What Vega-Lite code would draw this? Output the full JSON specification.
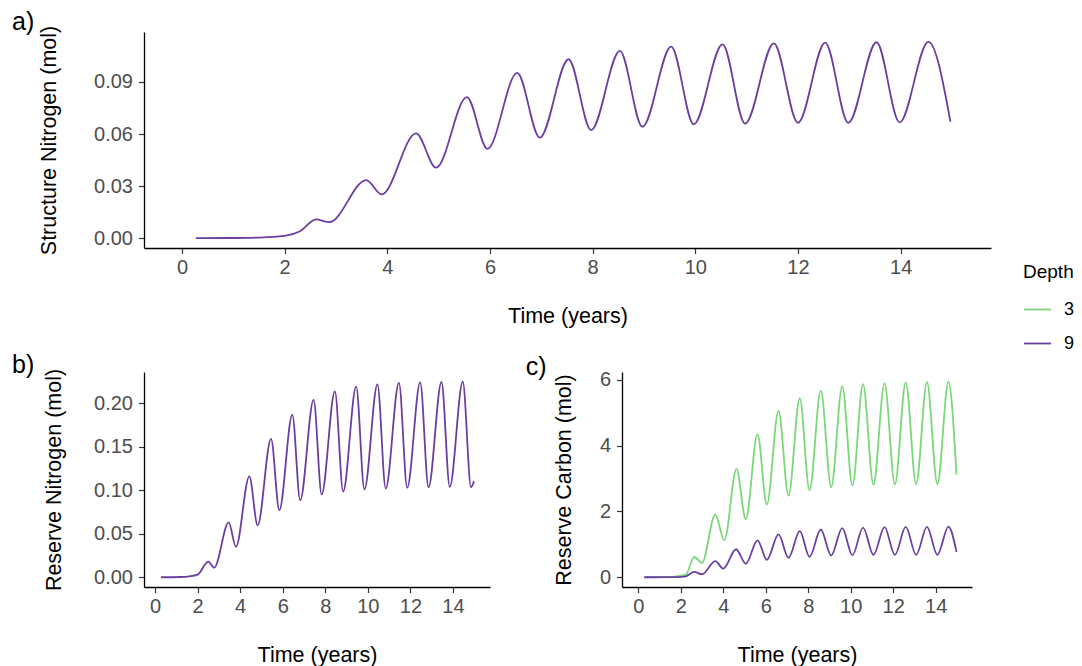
{
  "$schema": "https://vega.github.io/schema/vega-lite/v6.json",
  "padding": {"left": 12, "top": 10, "right": 0, "bottom": 0},
  "background": "white",
  "config": {
    "font": "Liberation Sans",
    "view": {"stroke": null},
    "axis": {
      "grid": false,
      "domainColor": "#000000",
      "domainWidth": 1.3,
      "tickColor": "#333333",
      "tickWidth": 1.2,
      "tickSize": 5.5,
      "labelColor": "#4D4D4D",
      "labelFontSize": 20,
      "labelPadding": 6,
      "titleColor": "#000000",
      "titleFontSize": 21.5,
      "titleFontWeight": "normal"
    },
    "axisX": {"titlePadding": 28, "labelPadding": 4},
    "axisY": {"titlePadding": 30},
    "title": {"fontSize": 25, "fontWeight": "normal", "color": "#000000"},
    "legend": {
      "titleFontSize": 19,
      "titleFontWeight": "normal",
      "titleColor": "#000000",
      "labelFontSize": 18,
      "labelColor": "#000000",
      "symbolType": "stroke",
      "symbolStrokeWidth": 1.8,
      "symbolSize": 729,
      "rowPadding": 10,
      "titlePadding": 13,
      "labelOffset": 12
    },
    "line": {"interpolate": "monotone", "strokeWidth": 1.8}
  },
  "data": {
    "values": [
      {"p": "a", "d": "9", "t": 0.27, "v": 0},
      {"p": "a", "d": "9", "t": 1.0, "v": 0.0001},
      {"p": "a", "d": "9", "t": 1.6, "v": 0.0005},
      {"p": "a", "d": "9", "t": 2.0, "v": 0.0013},
      {"p": "a", "d": "9", "t": 2.3, "v": 0.004},
      {"p": "a", "d": "9", "t": 2.61, "v": 0.0108},
      {"p": "a", "d": "9", "t": 2.87, "v": 0.0092},
      {"p": "a", "d": "9", "t": 3.59, "v": 0.0335},
      {"p": "a", "d": "9", "t": 3.89, "v": 0.0252},
      {"p": "a", "d": "9", "t": 4.56, "v": 0.0604},
      {"p": "a", "d": "9", "t": 4.95, "v": 0.0406},
      {"p": "a", "d": "9", "t": 5.55, "v": 0.0813},
      {"p": "a", "d": "9", "t": 5.95, "v": 0.0515},
      {"p": "a", "d": "9", "t": 6.53, "v": 0.0952},
      {"p": "a", "d": "9", "t": 6.97, "v": 0.0579},
      {"p": "a", "d": "9", "t": 7.53, "v": 0.1031},
      {"p": "a", "d": "9", "t": 7.97, "v": 0.0623},
      {"p": "a", "d": "9", "t": 8.53, "v": 0.1079},
      {"p": "a", "d": "9", "t": 8.97, "v": 0.0642},
      {"p": "a", "d": "9", "t": 9.53, "v": 0.1104},
      {"p": "a", "d": "9", "t": 9.97, "v": 0.0656},
      {"p": "a", "d": "9", "t": 10.53, "v": 0.1117},
      {"p": "a", "d": "9", "t": 10.97, "v": 0.066},
      {"p": "a", "d": "9", "t": 11.53, "v": 0.1123},
      {"p": "a", "d": "9", "t": 12.0, "v": 0.0665},
      {"p": "a", "d": "9", "t": 12.53, "v": 0.1127},
      {"p": "a", "d": "9", "t": 12.98, "v": 0.0665},
      {"p": "a", "d": "9", "t": 13.53, "v": 0.1129},
      {"p": "a", "d": "9", "t": 13.98, "v": 0.0667},
      {"p": "a", "d": "9", "t": 14.54, "v": 0.1131},
      {"p": "a", "d": "9", "t": 14.97, "v": 0.0671},

      {"p": "b", "d": "9", "t": 0.28, "v": 0},
      {"p": "b", "d": "9", "t": 1.2, "v": 0.0003},
      {"p": "b", "d": "9", "t": 1.6, "v": 0.001},
      {"p": "b", "d": "9", "t": 2.0, "v": 0.003},
      {"p": "b", "d": "9", "t": 2.5, "v": 0.018},
      {"p": "b", "d": "9", "t": 2.78, "v": 0.011},
      {"p": "b", "d": "9", "t": 3.46, "v": 0.063},
      {"p": "b", "d": "9", "t": 3.8, "v": 0.035},
      {"p": "b", "d": "9", "t": 4.43, "v": 0.116},
      {"p": "b", "d": "9", "t": 4.82, "v": 0.0597},
      {"p": "b", "d": "9", "t": 5.45, "v": 0.159},
      {"p": "b", "d": "9", "t": 5.84, "v": 0.077},
      {"p": "b", "d": "9", "t": 6.45, "v": 0.187},
      {"p": "b", "d": "9", "t": 6.82, "v": 0.0884},
      {"p": "b", "d": "9", "t": 7.45, "v": 0.204},
      {"p": "b", "d": "9", "t": 7.83, "v": 0.0952},
      {"p": "b", "d": "9", "t": 8.45, "v": 0.2138},
      {"p": "b", "d": "9", "t": 8.84, "v": 0.0987},
      {"p": "b", "d": "9", "t": 9.45, "v": 0.2192},
      {"p": "b", "d": "9", "t": 9.84, "v": 0.101},
      {"p": "b", "d": "9", "t": 10.45, "v": 0.2218},
      {"p": "b", "d": "9", "t": 10.84, "v": 0.102},
      {"p": "b", "d": "9", "t": 11.46, "v": 0.2234},
      {"p": "b", "d": "9", "t": 11.85, "v": 0.103},
      {"p": "b", "d": "9", "t": 12.46, "v": 0.2241},
      {"p": "b", "d": "9", "t": 12.85, "v": 0.1035},
      {"p": "b", "d": "9", "t": 13.46, "v": 0.2245},
      {"p": "b", "d": "9", "t": 13.85, "v": 0.104},
      {"p": "b", "d": "9", "t": 14.46, "v": 0.2248},
      {"p": "b", "d": "9", "t": 14.85, "v": 0.1036},
      {"p": "b", "d": "9", "t": 14.99, "v": 0.1105},

      {"p": "c", "d": "3", "t": 0.28, "v": 0},
      {"p": "c", "d": "3", "t": 1.2, "v": 0.003},
      {"p": "c", "d": "3", "t": 1.7, "v": 0.02},
      {"p": "c", "d": "3", "t": 2.24, "v": 0.08},
      {"p": "c", "d": "3", "t": 2.63, "v": 0.615},
      {"p": "c", "d": "3", "t": 3.0, "v": 0.44},
      {"p": "c", "d": "3", "t": 3.62, "v": 1.9},
      {"p": "c", "d": "3", "t": 4.05, "v": 1.12},
      {"p": "c", "d": "3", "t": 4.62, "v": 3.29},
      {"p": "c", "d": "3", "t": 5.06, "v": 1.76},
      {"p": "c", "d": "3", "t": 5.61, "v": 4.35},
      {"p": "c", "d": "3", "t": 6.05, "v": 2.21},
      {"p": "c", "d": "3", "t": 6.6, "v": 5.06},
      {"p": "c", "d": "3", "t": 7.07, "v": 2.48},
      {"p": "c", "d": "3", "t": 7.6, "v": 5.44},
      {"p": "c", "d": "3", "t": 8.06, "v": 2.64},
      {"p": "c", "d": "3", "t": 8.59, "v": 5.67},
      {"p": "c", "d": "3", "t": 9.08, "v": 2.74},
      {"p": "c", "d": "3", "t": 9.6, "v": 5.8},
      {"p": "c", "d": "3", "t": 10.08, "v": 2.79},
      {"p": "c", "d": "3", "t": 10.58, "v": 5.87},
      {"p": "c", "d": "3", "t": 11.07, "v": 2.81},
      {"p": "c", "d": "3", "t": 11.59, "v": 5.9},
      {"p": "c", "d": "3", "t": 12.08, "v": 2.82},
      {"p": "c", "d": "3", "t": 12.59, "v": 5.92},
      {"p": "c", "d": "3", "t": 13.08, "v": 2.83},
      {"p": "c", "d": "3", "t": 13.59, "v": 5.93},
      {"p": "c", "d": "3", "t": 14.08, "v": 2.83},
      {"p": "c", "d": "3", "t": 14.6, "v": 5.94},
      {"p": "c", "d": "3", "t": 14.98, "v": 3.12},

      {"p": "c", "d": "9", "t": 0.28, "v": 0},
      {"p": "c", "d": "9", "t": 1.5, "v": 0.002},
      {"p": "c", "d": "9", "t": 2.2, "v": 0.02},
      {"p": "c", "d": "9", "t": 2.63, "v": 0.16},
      {"p": "c", "d": "9", "t": 3.0, "v": 0.09},
      {"p": "c", "d": "9", "t": 3.62, "v": 0.49},
      {"p": "c", "d": "9", "t": 4.0, "v": 0.26},
      {"p": "c", "d": "9", "t": 4.6, "v": 0.85},
      {"p": "c", "d": "9", "t": 5.06, "v": 0.41},
      {"p": "c", "d": "9", "t": 5.61, "v": 1.12},
      {"p": "c", "d": "9", "t": 6.05, "v": 0.53},
      {"p": "c", "d": "9", "t": 6.6, "v": 1.3},
      {"p": "c", "d": "9", "t": 7.07, "v": 0.59},
      {"p": "c", "d": "9", "t": 7.6, "v": 1.4},
      {"p": "c", "d": "9", "t": 8.06, "v": 0.62},
      {"p": "c", "d": "9", "t": 8.59, "v": 1.45},
      {"p": "c", "d": "9", "t": 9.08, "v": 0.66},
      {"p": "c", "d": "9", "t": 9.6, "v": 1.49},
      {"p": "c", "d": "9", "t": 10.08, "v": 0.67},
      {"p": "c", "d": "9", "t": 10.58, "v": 1.51},
      {"p": "c", "d": "9", "t": 11.07, "v": 0.68},
      {"p": "c", "d": "9", "t": 11.59, "v": 1.52},
      {"p": "c", "d": "9", "t": 12.08, "v": 0.68},
      {"p": "c", "d": "9", "t": 12.59, "v": 1.53},
      {"p": "c", "d": "9", "t": 13.08, "v": 0.68},
      {"p": "c", "d": "9", "t": 13.59, "v": 1.53},
      {"p": "c", "d": "9", "t": 14.08, "v": 0.68},
      {"p": "c", "d": "9", "t": 14.6, "v": 1.54},
      {"p": "c", "d": "9", "t": 14.98, "v": 0.77}
    ]
  },
  "resolve": {"scale": {"color": "shared"}},
  "columns": 1,
  "align": "none",
  "spacing": 26,
  "concat": [
    {
      "width": 847,
      "height": 216,
      "title": {"text": "a)", "orient": "left", "anchor": "end", "angle": 0, "align": "right", "baseline": "alphabetic", "dy": 5, "offset": -18},
      "transform": [{"filter": "datum.p === 'a'"}],
      "mark": "line",
      "encoding": {
        "x": {"field": "t", "type": "quantitative",
              "scale": {"domain": [-0.74, 15.76], "nice": false, "zero": false},
              "axis": {"title": "Time (years)", "values": [0, 2, 4, 6, 8, 10, 12, 14]}},
        "y": {"field": "v", "type": "quantitative",
              "scale": {"domain": [-0.00566, 0.1188], "nice": false, "zero": false},
              "axis": {"title": "Structure Nitrogen (mol)", "values": [0, 0.03, 0.06, 0.09], "format": ".2f", "titlePadding": 33}},
        "color": {"field": "d", "type": "nominal",
                  "scale": {"domain": ["3", "9"], "range": ["#7AD77A", "#6B3FA0"]},
                  "legend": {"title": "Depth", "orient": "none", "legendX": 879, "legendY": 231}}
      }
    },
    {
      "hconcat": [
        {
          "width": 346,
          "height": 215,
          "title": {"text": "b)", "orient": "left", "anchor": "end", "angle": 0, "align": "right", "baseline": "alphabetic", "dy": 5, "offset": -13},
          "transform": [{"filter": "datum.p === 'b'"}],
          "mark": "line",
          "encoding": {
            "x": {"field": "t", "type": "quantitative",
                  "scale": {"domain": [-0.52, 15.74], "nice": false, "zero": false},
                  "axis": {"title": "Time (years)", "values": [0, 2, 4, 6, 8, 10, 12, 14]}},
            "y": {"field": "v", "type": "quantitative",
                  "scale": {"domain": [-0.0112, 0.236], "nice": false, "zero": false},
                  "axis": {"title": "Reserve Nitrogen (mol)", "values": [0, 0.05, 0.1, 0.15, 0.2], "format": ".2f", "titlePadding": 28}},
            "color": {"field": "d", "type": "nominal"}
          }
        },
        {
          "width": 350,
          "height": 215,
          "title": {"text": "c)", "orient": "left", "anchor": "end", "angle": 0, "align": "right", "baseline": "alphabetic", "dy": 5, "offset": -14},
          "transform": [{"filter": "datum.p === 'c'"}],
          "mark": "line",
          "encoding": {
            "x": {"field": "t", "type": "quantitative",
                  "scale": {"domain": [-0.77, 15.71], "nice": false, "zero": false},
                  "axis": {"title": "Time (years)", "values": [0, 2, 4, 6, 8, 10, 12, 14]}},
            "y": {"field": "v", "type": "quantitative",
                  "scale": {"domain": [-0.297, 6.237], "nice": false, "zero": false},
                  "axis": {"title": "Reserve Carbon (mol)", "values": [0, 2, 4, 6], "format": "d", "titlePadding": 24}},
            "color": {"field": "d", "type": "nominal"}
          }
        }
      ],
      "spacing": 35
    }
  ]
}
